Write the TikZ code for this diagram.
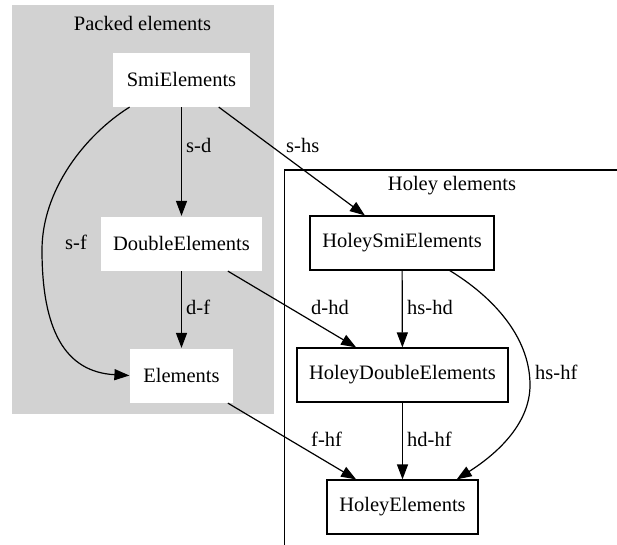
\documentclass[tikz,border=0pt]{standalone}
\usepackage{fontspec}
\setmainfont{Liberation Serif}
\usetikzlibrary{arrows.meta}

\begin{document}
\begin{tikzpicture}[x=1pt, y=-1pt,
    every node/.style={font=\fontsize{20.5}{24}\selectfont},
    kind/.style={rectangle, draw=black, line width=1.2pt, fill=white,
        minimum height=54pt, inner xsep=12pt},
    packedkind/.style={kind, draw=none},
    edge/.style={line width=1.2pt, -{Triangle[length=15pt,width=11pt]}},
    lbl/.style={anchor=west, inner sep=0pt}]
        \useasboundingbox (0, 0) rectangle (617, 544);
        \clip (0, 0) rectangle (617, 544);

        % clusters
        \fill[gray!35] (12, 5) rectangle (274, 414);
        \draw[line width=1.2pt] (284.5, 170) rectangle (620, 560);
        \node (packedtitle) at (142.5, 23) {Packed elements};
        \node (holeytitle) at (452, 186) {Holey elements};

        \node[packedkind, minimum width=137pt] (smi) at (181.5, 79.5) {SmiElements};
        \node[packedkind, minimum width=161pt] (dbl) at (181.5, 243.5) {DoubleElements};
        \node[packedkind, minimum width=103pt] (el) at (181.5, 375.5) {Elements};

        \node[kind, minimum width=184pt] (hsmi) at (402, 243) {HoleySmiElements};
        \node[kind, minimum width=211pt] (hdbl) at (402.5, 375) {HoleyDoubleElements};
        \node[kind, minimum width=151pt] (hel) at (402.5, 507) {HoleyElements};

        \draw[edge] (smi) -- (dbl);
        \draw[edge] (dbl) -- (el);
        \draw[edge] (smi) -- (hsmi);
        \draw[edge] (dbl) -- (hdbl);
        \draw[edge] (el) -- (hel);
        \draw[edge] (hsmi) -- (hdbl);
        \draw[edge] (hdbl.south -| hel) -- (hel);
        \draw[edge] (smi.208) .. controls (85, 135) and (42, 190) .. (42, 250)
            .. controls (42, 330) and (65, 372) .. (el.west);
        \draw[edge] (hsmi.-30) .. controls (490, 295) and (530, 335) .. (530, 385)
            .. controls (530, 425) and (495, 455) .. (hel.27);

        \node[lbl] (lsd) at (186, 145) {s-d};
        \node[lbl] (lshs) at (286, 145) {s-hs};
        \node[lbl] (lsf) at (65, 242) {s-f};
        \node[lbl] (ldf) at (186, 307) {d-f};
        \node[lbl] (ldhd) at (311, 307) {d-hd};
        \node[lbl] (lhshd) at (407, 307) {hs-hd};
        \node[lbl] (lhshf) at (535, 372) {hs-hf};
        \node[lbl] (lfhf) at (311, 439) {f-hf};
        \node[lbl] (lhdhf) at (407, 439) {hd-hf};
        \end{tikzpicture}
\end{document}
